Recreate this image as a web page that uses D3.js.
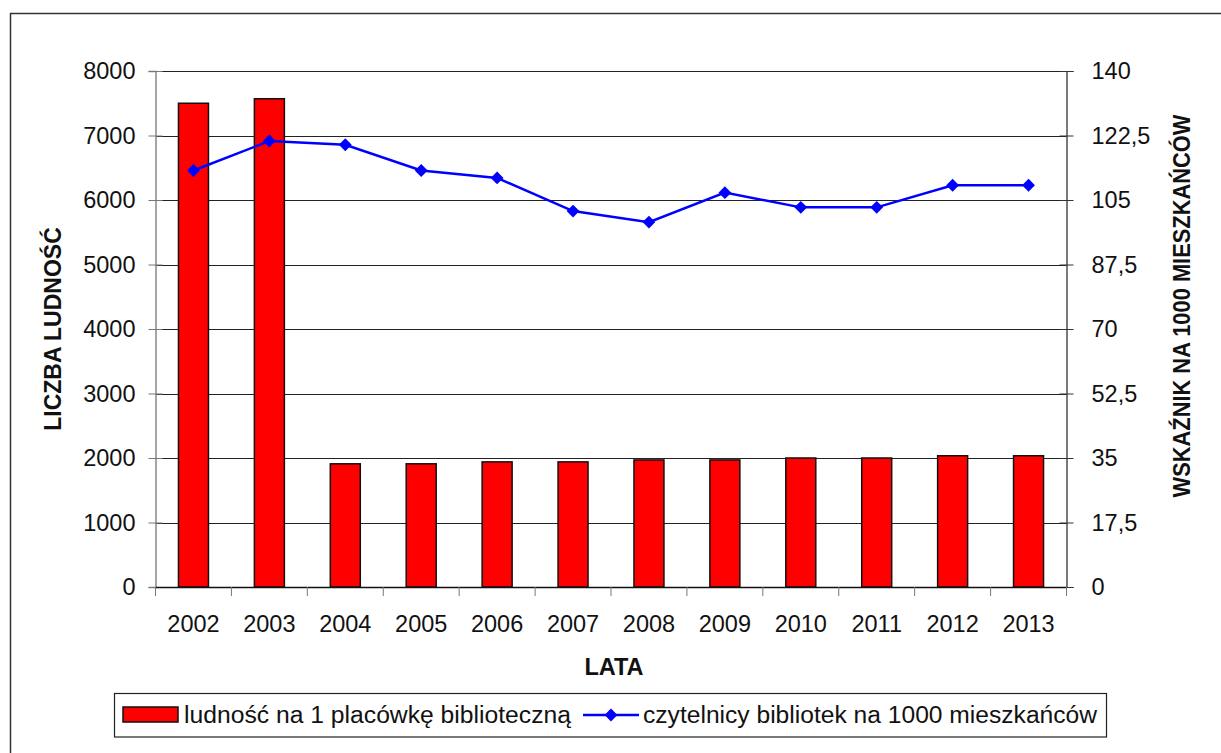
<!DOCTYPE html>
<html>
<head>
<meta charset="utf-8">
<script src="https://cdn.jsdelivr.net/npm/d3@7"></script>
<style>
  html, body { margin: 0; padding: 0; background: #fff; }
  svg { display: block; font-family: "Liberation Sans", Arial, sans-serif; }
</style>
</head>
<body>
<svg id="chart" width="1221" height="753"></svg>
<script>
// Library statistics, 2002–2013
const years = ["2002", "2003", "2004", "2005", "2006", "2007", "2008", "2009", "2010", "2011", "2012", "2013"];
const populationPerLibrary = [7500, 7570, 1910, 1910, 1940, 1940, 1970, 1970, 2000, 2000, 2035, 2035];
const readersPer1000 = [113, 121, 120, 113, 111, 102, 99, 107, 103, 103, 109, 109];
const leftTicks = [0, 1000, 2000, 3000, 4000, 5000, 6000, 7000, 8000];
const rightTicks = [0, 17.5, 35, 52.5, 70, 87.5, 105, 122.5, 140];

const barLabel = "ludność na 1 placówkę biblioteczną";
const lineLabel = "czytelnicy bibliotek na 1000 mieszkańców";
const leftTitle = "LICZBA LUDNOŚĆ";
const rightTitle = "WSKAŹNIK NA 1000 MIESZKAŃCÓW";
const xTitle = "LATA";

const svg = d3.select("#chart");
const plot = { left: 155.5, right: 1066.5, top: 71, bottom: 587 };

// outer frame
svg.append("rect")
  .attr("x", 10.5).attr("y", 13.5)
  .attr("width", 1230).attr("height", 760)
  .attr("fill", "none").attr("stroke", "#333").attr("stroke-width", 1.5);

const x = d3.scaleBand().domain(years)
  .range([plot.left, plot.right])
  .paddingInner(0.605).paddingOuter(0.3025);
const yL = d3.scaleLinear().domain([0, 8000]).range([plot.bottom, plot.top]);
const yR = d3.scaleLinear().domain([0, 140]).range([plot.bottom, plot.top]);

// horizontal gridlines
svg.append("g").selectAll("line")
  .data(leftTicks.filter(d => d > 0))
  .join("line")
  .attr("x1", plot.left).attr("x2", plot.right)
  .attr("y1", d => Math.round(yL(d)) + 0.5).attr("y2", d => Math.round(yL(d)) + 0.5)
  .attr("stroke", "#222").attr("stroke-width", 1);

// bars
svg.append("g").selectAll("rect")
  .data(years.map((y, i) => ({ year: y, v: populationPerLibrary[i] })))
  .join("rect")
  .attr("x", d => x(d.year))
  .attr("y", d => yL(d.v))
  .attr("width", x.bandwidth())
  .attr("height", d => yL(0) - yL(d.v))
  .attr("fill", "#ff0000")
  .attr("stroke", "#111").attr("stroke-width", 1.5);

// left axis
const gL = svg.append("g")
  .attr("transform", `translate(${plot.left},0)`)
  .call(d3.axisLeft(yL).tickValues(leftTicks).tickSize(7).tickPadding(13).tickFormat(d3.format("d")));
gL.select(".domain").attr("stroke", "#888").attr("stroke-width", 1.5);
gL.selectAll(".tick line").attr("x2", -7).attr("x1", 7).attr("stroke", "#777");
gL.selectAll(".tick text").attr("font-size", 23.5).attr("fill", "#111")
  .attr("font-family", "Liberation Sans, Arial, sans-serif");

// right axis
const fmtComma = d => String(d).replace(".", ",");
const gR = svg.append("g")
  .attr("transform", `translate(${plot.right},0)`)
  .call(d3.axisRight(yR).tickValues(rightTicks).tickSize(7).tickPadding(18).tickFormat(fmtComma));
gR.select(".domain").attr("stroke", "#222").attr("stroke-width", 1.2);
gR.selectAll(".tick line").attr("x1", -7).attr("x2", 7).attr("stroke", "#333");
gR.selectAll(".tick text").attr("font-size", 23.5).attr("fill", "#111")
  .attr("font-family", "Liberation Sans, Arial, sans-serif");

// bottom axis: ticks on category boundaries
const gB = svg.append("g").attr("transform", `translate(0,${plot.bottom})`);
gB.append("line")
  .attr("x1", plot.left).attr("x2", plot.right).attr("y1", 0.5).attr("y2", 0.5)
  .attr("stroke", "#111").attr("stroke-width", 1.5);
const step = x.step();
const boundaries = years.map(y => x(y) - (step - x.bandwidth()) / 2).concat([plot.right]);
gB.selectAll("line.tk").data(boundaries).join("line").attr("class", "tk")
  .attr("x1", d => d).attr("x2", d => d).attr("y1", 0).attr("y2", 9)
  .attr("stroke", "#777").attr("stroke-width", 1);
gB.selectAll("text").data(years).join("text")
  .attr("x", d => x(d) + x.bandwidth() / 2)
  .attr("y", 45)
  .attr("text-anchor", "middle")
  .attr("font-size", 23.5).attr("fill", "#111")
  .text(d => d);

// line series
const pts = years.map((y, i) => [x(y) + x.bandwidth() / 2, yR(readersPer1000[i])]);
svg.append("path")
  .attr("d", d3.line()(pts))
  .attr("fill", "none").attr("stroke", "#0000ff").attr("stroke-width", 2.5);
const diamond = d3.symbol().type(d3.symbolDiamond2).size(105);
svg.append("g").selectAll("path")
  .data(pts).join("path")
  .attr("transform", d => `translate(${d[0]},${d[1]})`)
  .attr("d", diamond)
  .attr("fill", "#0000ff");

// axis titles
svg.append("text")
  .attr("transform", `translate(61,${(plot.top + plot.bottom) / 2}) rotate(-90)`)
  .attr("text-anchor", "middle")
  .attr("font-size", 23).attr("font-weight", "bold").attr("fill", "#111")
  .text(leftTitle);
svg.append("text")
  .attr("transform", `translate(1190,306) rotate(-90)`)
  .attr("text-anchor", "middle")
  .attr("font-size", 23).attr("font-weight", "bold").attr("fill", "#111")
  .attr("textLength", 383).attr("lengthAdjust", "spacingAndGlyphs")
  .text(rightTitle);
svg.append("text")
  .attr("x", 614).attr("y", 675)
  .attr("text-anchor", "middle")
  .attr("font-size", 23.5).attr("font-weight", "bold").attr("fill", "#111")
  .text(xTitle);

// legend
const lg = svg.append("g");
lg.append("rect")
  .attr("x", 114.5).attr("y", 693.5).attr("width", 992).attr("height", 43.5)
  .attr("fill", "#fff").attr("stroke", "#222").attr("stroke-width", 1.2);
lg.append("rect")
  .attr("x", 123).attr("y", 707).attr("width", 55).attr("height", 15)
  .attr("fill", "#ff0000").attr("stroke", "#111").attr("stroke-width", 1.5);
lg.append("text")
  .attr("x", 184).attr("y", 723)
  .attr("font-size", 23).attr("fill", "#111")
  .attr("textLength", 387).attr("lengthAdjust", "spacingAndGlyphs")
  .text(barLabel);
lg.append("line")
  .attr("x1", 583).attr("x2", 639).attr("y1", 715).attr("y2", 715)
  .attr("stroke", "#0000ff").attr("stroke-width", 2.5);
lg.append("path")
  .attr("transform", "translate(611,715)")
  .attr("d", diamond).attr("fill", "#0000ff");
lg.append("text")
  .attr("x", 643).attr("y", 723)
  .attr("font-size", 23).attr("fill", "#111")
  .attr("textLength", 454).attr("lengthAdjust", "spacingAndGlyphs")
  .text(lineLabel);
</script>
</body>
</html>
